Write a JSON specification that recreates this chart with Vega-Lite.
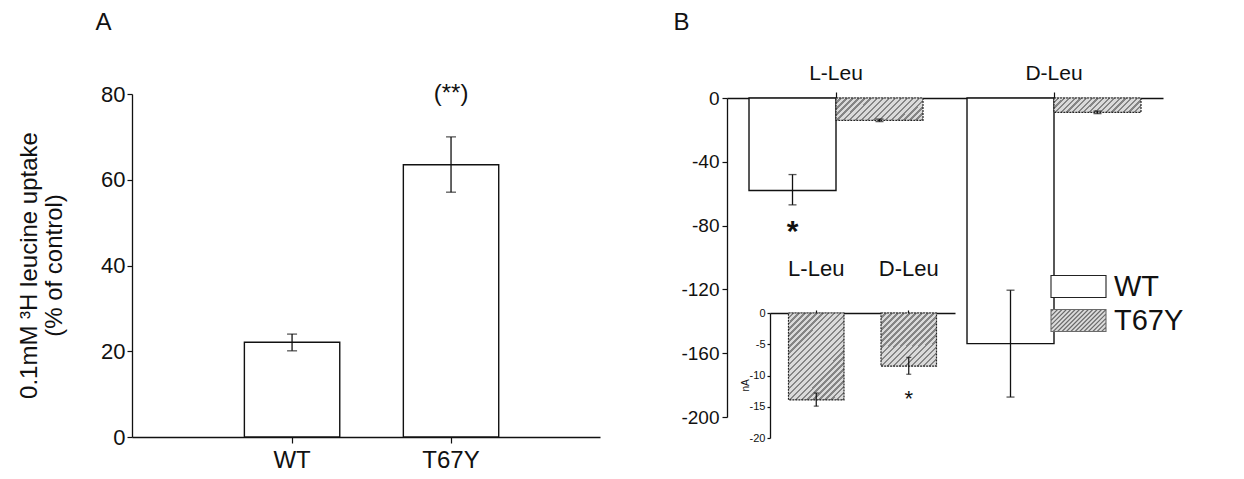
{
  "$schema": "https://vega.github.io/schema/vega-lite/v6.json",
  "width": 1244,
  "height": 479,
  "autosize": "none",
  "padding": 0,
  "background": "white",
  "config": {
    "font": "Liberation Sans",
    "view": {"stroke": null},
    "axis": {"grid": false, "domainColor": "#111", "tickColor": "#111", "labelColor": "#111", "titleColor": "#111", "domainWidth": 1.3, "tickWidth": 1.2, "titleFontWeight": "normal", "labelFlush": false, "labelOverlap": false}
  },
  "datasets": {
    "uptake": [
      {"genotype": "WT", "uptake": 22.1, "lo": 20.1, "hi": 24.0},
      {"genotype": "T67Y", "uptake": 63.5, "lo": 57.1, "hi": 70.0}
    ],
    "uptakeNote": [{"genotype": "T67Y", "level": 80, "note": "(**)"}],
    "current": [
      {"amino": "L-Leu", "series": "WT", "current": -58, "lo": -67, "hi": -48},
      {"amino": "L-Leu", "series": "T67Y", "current": -14, "lo": -14.8, "hi": -13.2},
      {"amino": "D-Leu", "series": "WT", "current": -154, "lo": -187.5, "hi": -120.5},
      {"amino": "D-Leu", "series": "T67Y", "current": -9, "lo": -9.8, "hi": -8.2}
    ],
    "currentNote": [{"amino": "L-Leu", "series": "WT", "level": -79, "note": "*"}],
    "inset": [
      {"amino": "L-Leu", "current": -13.9, "lo": -14.9, "hi": -12.8},
      {"amino": "D-Leu", "current": -8.5, "lo": -9.8, "hi": -7.1}
    ],
    "insetNote": [{"amino": "D-Leu", "level": -13, "note": "*"}]
  },
  "layer": [
    {
      "layer": [
        {
          "data": {"name": "uptake"},
          "mark": {"type": "bar", "fill": "white", "stroke": "#111", "strokeWidth": 1.4, "width": {"band": 0.6}},
          "encoding": {
            "x": {"field": "genotype", "type": "nominal",
              "scale": {"domain": ["WT", "T67Y"], "range": [132, 600], "paddingInner": 0, "paddingOuter": 0.472, "align": 0.537},
              "axis": {"orient": "bottom", "offset": -42, "title": "A", "titleX": 103, "titleY": -415, "titleFontSize": 24, "titleAlign": "center", "titleBaseline": "middle", "titleAngle": 0, "labelFontSize": 24, "labelAngle": 0, "tickSize": 6, "labelPadding": 5}},
            "y": {"field": "uptake", "type": "quantitative",
              "scale": {"domain": [0, 80], "range": [437, 94], "nice": false},
              "axis": {"orient": "left", "offset": -132, "values": [0, 20, 40, 60, 80], "tickSize": 5, "labelFontSize": 22, "labelPadding": 2, "title": ["0.1mM ³H leucine uptake", "(% of control)"], "titleFontSize": 24, "titleX": -103, "titleY": 265, "titleAngle": -90, "titleAlign": "center", "titleBaseline": "middle", "titleLineHeight": 25}}
          }
        },
        {
          "data": {"name": "uptake"},
          "mark": {"type": "rule", "stroke": "#111", "strokeWidth": 1.3},
          "encoding": {"x": {"field": "genotype", "type": "nominal"}, "y": {"field": "lo", "type": "quantitative"}, "y2": {"field": "hi"}}
        },
        {
          "data": {"name": "uptake"},
          "mark": {"type": "tick", "color": "#111", "size": 10, "thickness": 1.3},
          "encoding": {"x": {"field": "genotype", "type": "nominal"}, "y": {"field": "lo", "type": "quantitative"}}
        },
        {
          "data": {"name": "uptake"},
          "mark": {"type": "tick", "color": "#111", "size": 10, "thickness": 1.3},
          "encoding": {"x": {"field": "genotype", "type": "nominal"}, "y": {"field": "hi", "type": "quantitative"}}
        },
        {
          "data": {"name": "uptakeNote"},
          "mark": {"type": "text", "fontSize": 24, "baseline": "middle", "color": "#111"},
          "encoding": {"x": {"field": "genotype", "type": "nominal"}, "y": {"field": "level", "type": "quantitative"}, "text": {"field": "note"}}
        }
      ]
    },
    {
      "layer": [
        {
          "data": {"name": "current"},
          "transform": [{"filter": "datum.series === 'WT'"}],
          "mark": {"type": "bar", "fill": "white", "stroke": "#111", "strokeWidth": 1.4},
          "encoding": {
            "x": {"field": "amino", "type": "nominal",
              "scale": {"domain": ["L-Leu", "D-Leu"], "range": [727, 1163], "paddingInner": 0, "paddingOuter": 0},
              "axis": {"orient": "top", "offset": -98, "labelFontSize": 21, "tickSize": 6, "labelPadding": 9, "labelAngle": 0, "title": "B", "titleX": 681, "titleY": -76, "titleFontSize": 24, "titleAlign": "center", "titleBaseline": "middle", "titleAngle": 0}},
            "xOffset": {"field": "series", "type": "nominal", "scale": {"domain": ["WT", "T67Y"], "paddingInner": 0, "paddingOuter": 0.253}},
            "y": {"field": "current", "type": "quantitative",
              "scale": {"domain": [-200, 0], "range": [417, 98], "nice": false},
              "axis": {"orient": "left", "offset": -727, "values": [-200, -160, -120, -80, -40, 0], "labelExpr": "replace(datum.label, '−', '-')", "tickSize": 5, "labelFontSize": 19, "labelPadding": 3, "title": null}}
          }
        },
        {
          "data": {"name": "current"},
          "transform": [{"filter": "datum.series === 'T67Y' && datum.amino === 'L-Leu'"}],
          "mark": {"type": "bar", "stroke": "#222", "strokeWidth": 1.2, "strokeDash": [2, 1],
            "fill": {"gradient": "linear", "x1": 0, "y1": 0, "x2": 1.178, "y2": 0.3, "stops": [{"offset":0,"color":"#dadada"},{"offset":0.0333,"color":"#dadada"},{"offset":0.0333,"color":"#858585"},{"offset":0.0556,"color":"#858585"},{"offset":0.0556,"color":"#dadada"},{"offset":0.0889,"color":"#dadada"},{"offset":0.0889,"color":"#858585"},{"offset":0.1111,"color":"#858585"},{"offset":0.1111,"color":"#dadada"},{"offset":0.1444,"color":"#dadada"},{"offset":0.1444,"color":"#858585"},{"offset":0.1667,"color":"#858585"},{"offset":0.1667,"color":"#dadada"},{"offset":0.2,"color":"#dadada"},{"offset":0.2,"color":"#858585"},{"offset":0.2222,"color":"#858585"},{"offset":0.2222,"color":"#dadada"},{"offset":0.2556,"color":"#dadada"},{"offset":0.2556,"color":"#858585"},{"offset":0.2778,"color":"#858585"},{"offset":0.2778,"color":"#dadada"},{"offset":0.3111,"color":"#dadada"},{"offset":0.3111,"color":"#858585"},{"offset":0.3333,"color":"#858585"},{"offset":0.3333,"color":"#dadada"},{"offset":0.3667,"color":"#dadada"},{"offset":0.3667,"color":"#858585"},{"offset":0.3889,"color":"#858585"},{"offset":0.3889,"color":"#dadada"},{"offset":0.4222,"color":"#dadada"},{"offset":0.4222,"color":"#858585"},{"offset":0.4444,"color":"#858585"},{"offset":0.4444,"color":"#dadada"},{"offset":0.4778,"color":"#dadada"},{"offset":0.4778,"color":"#858585"},{"offset":0.5,"color":"#858585"},{"offset":0.5,"color":"#dadada"},{"offset":0.5333,"color":"#dadada"},{"offset":0.5333,"color":"#858585"},{"offset":0.5556,"color":"#858585"},{"offset":0.5556,"color":"#dadada"},{"offset":0.5889,"color":"#dadada"},{"offset":0.5889,"color":"#858585"},{"offset":0.6111,"color":"#858585"},{"offset":0.6111,"color":"#dadada"},{"offset":0.6444,"color":"#dadada"},{"offset":0.6444,"color":"#858585"},{"offset":0.6667,"color":"#858585"},{"offset":0.6667,"color":"#dadada"},{"offset":0.7,"color":"#dadada"},{"offset":0.7,"color":"#858585"},{"offset":0.7222,"color":"#858585"},{"offset":0.7222,"color":"#dadada"},{"offset":0.7556,"color":"#dadada"},{"offset":0.7556,"color":"#858585"},{"offset":0.7778,"color":"#858585"},{"offset":0.7778,"color":"#dadada"},{"offset":0.8111,"color":"#dadada"},{"offset":0.8111,"color":"#858585"},{"offset":0.8333,"color":"#858585"},{"offset":0.8333,"color":"#dadada"},{"offset":0.8667,"color":"#dadada"},{"offset":0.8667,"color":"#858585"},{"offset":0.8889,"color":"#858585"},{"offset":0.8889,"color":"#dadada"},{"offset":0.9222,"color":"#dadada"},{"offset":0.9222,"color":"#858585"},{"offset":0.9444,"color":"#858585"},{"offset":0.9444,"color":"#dadada"},{"offset":0.9778,"color":"#dadada"},{"offset":0.9778,"color":"#858585"},{"offset":1,"color":"#858585"}]}},
          "encoding": {
            "x": {"field": "amino", "type": "nominal"},
            "xOffset": {"field": "series", "type": "nominal"},
            "y": {"field": "current", "type": "quantitative"}
          }
        },
        {
          "data": {"name": "current"},
          "transform": [{"filter": "datum.series === 'T67Y' && datum.amino === 'D-Leu'"}],
          "mark": {"type": "bar", "stroke": "#222", "strokeWidth": 1.2, "strokeDash": [2, 1],
            "fill": {"gradient": "linear", "x1": 0, "y1": 0, "x2": 1.134, "y2": 0.188, "stops": [{"offset":0,"color":"#dadada"},{"offset":0.0333,"color":"#dadada"},{"offset":0.0333,"color":"#858585"},{"offset":0.0556,"color":"#858585"},{"offset":0.0556,"color":"#dadada"},{"offset":0.0889,"color":"#dadada"},{"offset":0.0889,"color":"#858585"},{"offset":0.1111,"color":"#858585"},{"offset":0.1111,"color":"#dadada"},{"offset":0.1444,"color":"#dadada"},{"offset":0.1444,"color":"#858585"},{"offset":0.1667,"color":"#858585"},{"offset":0.1667,"color":"#dadada"},{"offset":0.2,"color":"#dadada"},{"offset":0.2,"color":"#858585"},{"offset":0.2222,"color":"#858585"},{"offset":0.2222,"color":"#dadada"},{"offset":0.2556,"color":"#dadada"},{"offset":0.2556,"color":"#858585"},{"offset":0.2778,"color":"#858585"},{"offset":0.2778,"color":"#dadada"},{"offset":0.3111,"color":"#dadada"},{"offset":0.3111,"color":"#858585"},{"offset":0.3333,"color":"#858585"},{"offset":0.3333,"color":"#dadada"},{"offset":0.3667,"color":"#dadada"},{"offset":0.3667,"color":"#858585"},{"offset":0.3889,"color":"#858585"},{"offset":0.3889,"color":"#dadada"},{"offset":0.4222,"color":"#dadada"},{"offset":0.4222,"color":"#858585"},{"offset":0.4444,"color":"#858585"},{"offset":0.4444,"color":"#dadada"},{"offset":0.4778,"color":"#dadada"},{"offset":0.4778,"color":"#858585"},{"offset":0.5,"color":"#858585"},{"offset":0.5,"color":"#dadada"},{"offset":0.5333,"color":"#dadada"},{"offset":0.5333,"color":"#858585"},{"offset":0.5556,"color":"#858585"},{"offset":0.5556,"color":"#dadada"},{"offset":0.5889,"color":"#dadada"},{"offset":0.5889,"color":"#858585"},{"offset":0.6111,"color":"#858585"},{"offset":0.6111,"color":"#dadada"},{"offset":0.6444,"color":"#dadada"},{"offset":0.6444,"color":"#858585"},{"offset":0.6667,"color":"#858585"},{"offset":0.6667,"color":"#dadada"},{"offset":0.7,"color":"#dadada"},{"offset":0.7,"color":"#858585"},{"offset":0.7222,"color":"#858585"},{"offset":0.7222,"color":"#dadada"},{"offset":0.7556,"color":"#dadada"},{"offset":0.7556,"color":"#858585"},{"offset":0.7778,"color":"#858585"},{"offset":0.7778,"color":"#dadada"},{"offset":0.8111,"color":"#dadada"},{"offset":0.8111,"color":"#858585"},{"offset":0.8333,"color":"#858585"},{"offset":0.8333,"color":"#dadada"},{"offset":0.8667,"color":"#dadada"},{"offset":0.8667,"color":"#858585"},{"offset":0.8889,"color":"#858585"},{"offset":0.8889,"color":"#dadada"},{"offset":0.9222,"color":"#dadada"},{"offset":0.9222,"color":"#858585"},{"offset":0.9444,"color":"#858585"},{"offset":0.9444,"color":"#dadada"},{"offset":0.9778,"color":"#dadada"},{"offset":0.9778,"color":"#858585"},{"offset":1,"color":"#858585"}]}},
          "encoding": {
            "x": {"field": "amino", "type": "nominal"},
            "xOffset": {"field": "series", "type": "nominal"},
            "y": {"field": "current", "type": "quantitative"}
          }
        },
        {
          "data": {"name": "current"},
          "mark": {"type": "rule", "stroke": "#111", "strokeWidth": 1.3},
          "encoding": {"x": {"field": "amino", "type": "nominal"}, "xOffset": {"field": "series", "type": "nominal"}, "y": {"field": "lo", "type": "quantitative"}, "y2": {"field": "hi"}}
        },
        {
          "data": {"name": "current"},
          "mark": {"type": "tick", "color": "#111", "size": 8, "thickness": 1.3},
          "encoding": {"x": {"field": "amino", "type": "nominal"}, "xOffset": {"field": "series", "type": "nominal"}, "y": {"field": "lo", "type": "quantitative"}}
        },
        {
          "data": {"name": "current"},
          "mark": {"type": "tick", "color": "#111", "size": 8, "thickness": 1.3},
          "encoding": {"x": {"field": "amino", "type": "nominal"}, "xOffset": {"field": "series", "type": "nominal"}, "y": {"field": "hi", "type": "quantitative"}}
        },
        {
          "data": {"name": "currentNote"},
          "mark": {"type": "text", "fontSize": 30, "fontWeight": "bold", "baseline": "middle", "dy": 8, "color": "#111"},
          "encoding": {"x": {"field": "amino", "type": "nominal"}, "xOffset": {"field": "series", "type": "nominal"}, "y": {"field": "level", "type": "quantitative"}, "text": {"field": "note"}}
        },
        {
          "data": {"name": "current"},
          "mark": {"type": "point", "filled": true, "opacity": 0, "size": 484, "strokeWidth": 1},
          "encoding": {
            "x": {"field": "amino", "type": "nominal"},
            "xOffset": {"field": "series", "type": "nominal"},
            "y": {"field": "current", "type": "quantitative"},
            "fill": {"field": "series", "type": "nominal",
              "scale": {"domain": ["WT", "T67Y"], "range": ["#ffffff", "#dcdcdc"]},
              "legend": {"orient": "none", "legendX": 1064, "legendY": 272, "title": null, "padding": 0, "symbolSize": 484, "symbolStrokeWidth": 1.1, "symbolOpacity": 1, "labelFontSize": 29, "labelOffset": 21, "rowPadding": 4, "labelColor": "#111", "labelBaseline": "middle"}},
            "stroke": {"field": "series", "type": "nominal",
              "scale": {"domain": ["WT", "T67Y"], "range": ["#222222", "#6a6a6a"]},
              "legend": {"orient": "none", "legendX": 1064, "legendY": 272, "title": null, "padding": 0, "symbolSize": 484, "symbolStrokeWidth": 1.1, "symbolOpacity": 1, "labelFontSize": 29, "labelOffset": 21, "rowPadding": 4, "labelColor": "#111", "labelBaseline": "middle"}},
            "shape": {"field": "series", "type": "nominal",
              "scale": {"domain": ["WT", "T67Y"], "range": ["M-2.5,-1H2.5V1H-2.5Z", "M-2.5,-1H2.5V1H-2.5Z M-2.5,-0.8L-2.3,-1 M-2.5,-0.4L-1.9,-1 M-2.5,0L-1.5,-1 M-2.5,0.4L-1.1,-1 M-2.5,0.8L-0.7,-1 M-2.3,1L-0.3,-1 M-1.9,1L0.1,-1 M-1.5,1L0.5,-1 M-1.1,1L0.9,-1 M-0.7,1L1.3,-1 M-0.3,1L1.7,-1 M0.1,1L2.1,-1 M0.5,1L2.5,-1 M0.9,1L2.5,-0.6 M1.3,1L2.5,-0.2 M1.7,1L2.5,0.2 M2.1,1L2.5,0.6"]},
              "legend": {"orient": "none", "legendX": 1064, "legendY": 272, "title": null, "padding": 0, "symbolSize": 484, "symbolStrokeWidth": 1.1, "symbolOpacity": 1, "labelFontSize": 29, "labelOffset": 21, "rowPadding": 4, "labelColor": "#111", "labelBaseline": "middle"}}
          }
        }
      ]
    },
    {
      "layer": [
        {
          "data": {"name": "inset"},
          "transform": [{"filter": "datum.amino === 'L-Leu'"}],
          "mark": {"type": "bar", "stroke": "#222", "strokeWidth": 1.2, "strokeDash": [2, 1], "width": {"band": 0.6},
            "fill": {"gradient": "linear", "x1": 0, "y1": 0, "x2": 0.745, "y2": 1.163, "stops": [{"offset":0,"color":"#dadada"},{"offset":0.025,"color":"#dadada"},{"offset":0.025,"color":"#858585"},{"offset":0.0417,"color":"#858585"},{"offset":0.0417,"color":"#dadada"},{"offset":0.0667,"color":"#dadada"},{"offset":0.0667,"color":"#858585"},{"offset":0.0833,"color":"#858585"},{"offset":0.0833,"color":"#dadada"},{"offset":0.1083,"color":"#dadada"},{"offset":0.1083,"color":"#858585"},{"offset":0.125,"color":"#858585"},{"offset":0.125,"color":"#dadada"},{"offset":0.15,"color":"#dadada"},{"offset":0.15,"color":"#858585"},{"offset":0.1667,"color":"#858585"},{"offset":0.1667,"color":"#dadada"},{"offset":0.1917,"color":"#dadada"},{"offset":0.1917,"color":"#858585"},{"offset":0.2083,"color":"#858585"},{"offset":0.2083,"color":"#dadada"},{"offset":0.2333,"color":"#dadada"},{"offset":0.2333,"color":"#858585"},{"offset":0.25,"color":"#858585"},{"offset":0.25,"color":"#dadada"},{"offset":0.275,"color":"#dadada"},{"offset":0.275,"color":"#858585"},{"offset":0.2917,"color":"#858585"},{"offset":0.2917,"color":"#dadada"},{"offset":0.3167,"color":"#dadada"},{"offset":0.3167,"color":"#858585"},{"offset":0.3333,"color":"#858585"},{"offset":0.3333,"color":"#dadada"},{"offset":0.3583,"color":"#dadada"},{"offset":0.3583,"color":"#858585"},{"offset":0.375,"color":"#858585"},{"offset":0.375,"color":"#dadada"},{"offset":0.4,"color":"#dadada"},{"offset":0.4,"color":"#858585"},{"offset":0.4167,"color":"#858585"},{"offset":0.4167,"color":"#dadada"},{"offset":0.4417,"color":"#dadada"},{"offset":0.4417,"color":"#858585"},{"offset":0.4583,"color":"#858585"},{"offset":0.4583,"color":"#dadada"},{"offset":0.4833,"color":"#dadada"},{"offset":0.4833,"color":"#858585"},{"offset":0.5,"color":"#858585"},{"offset":0.5,"color":"#dadada"},{"offset":0.525,"color":"#dadada"},{"offset":0.525,"color":"#858585"},{"offset":0.5417,"color":"#858585"},{"offset":0.5417,"color":"#dadada"},{"offset":0.5667,"color":"#dadada"},{"offset":0.5667,"color":"#858585"},{"offset":0.5833,"color":"#858585"},{"offset":0.5833,"color":"#dadada"},{"offset":0.6083,"color":"#dadada"},{"offset":0.6083,"color":"#858585"},{"offset":0.625,"color":"#858585"},{"offset":0.625,"color":"#dadada"},{"offset":0.65,"color":"#dadada"},{"offset":0.65,"color":"#858585"},{"offset":0.6667,"color":"#858585"},{"offset":0.6667,"color":"#dadada"},{"offset":0.6917,"color":"#dadada"},{"offset":0.6917,"color":"#858585"},{"offset":0.7083,"color":"#858585"},{"offset":0.7083,"color":"#dadada"},{"offset":0.7333,"color":"#dadada"},{"offset":0.7333,"color":"#858585"},{"offset":0.75,"color":"#858585"},{"offset":0.75,"color":"#dadada"},{"offset":0.775,"color":"#dadada"},{"offset":0.775,"color":"#858585"},{"offset":0.7917,"color":"#858585"},{"offset":0.7917,"color":"#dadada"},{"offset":0.8167,"color":"#dadada"},{"offset":0.8167,"color":"#858585"},{"offset":0.8333,"color":"#858585"},{"offset":0.8333,"color":"#dadada"},{"offset":0.8583,"color":"#dadada"},{"offset":0.8583,"color":"#858585"},{"offset":0.875,"color":"#858585"},{"offset":0.875,"color":"#dadada"},{"offset":0.9,"color":"#dadada"},{"offset":0.9,"color":"#858585"},{"offset":0.9167,"color":"#858585"},{"offset":0.9167,"color":"#dadada"},{"offset":0.9417,"color":"#dadada"},{"offset":0.9417,"color":"#858585"},{"offset":0.9583,"color":"#858585"},{"offset":0.9583,"color":"#dadada"},{"offset":0.9833,"color":"#dadada"},{"offset":0.9833,"color":"#858585"},{"offset":1,"color":"#858585"}]}},
          "encoding": {
            "x": {"field": "amino", "type": "nominal",
              "scale": {"domain": ["L-Leu", "D-Leu"], "range": [770, 955], "paddingInner": 0, "paddingOuter": 0},
              "axis": {"orient": "top", "offset": -313, "labelFontSize": 22, "tickSize": 3, "labelPadding": 30, "labelAngle": 0, "title": null}},
            "y": {"field": "current", "type": "quantitative",
              "scale": {"domain": [-20, 0], "range": [438, 313], "nice": false},
              "axis": {"orient": "left", "offset": -770, "values": [-20, -15, -10, -5, 0], "labelExpr": "replace(datum.label, '−', '-')", "tickSize": 3, "labelFontSize": 11, "labelPadding": 2, "title": "nA", "titleFontSize": 10, "titleX": -25, "titleY": 385, "titleAngle": -90, "titleAlign": "center", "titleBaseline": "middle"}}
          }
        },
        {
          "data": {"name": "inset"},
          "transform": [{"filter": "datum.amino === 'D-Leu'"}],
          "mark": {"type": "bar", "stroke": "#222", "strokeWidth": 1.2, "strokeDash": [2, 1], "width": {"band": 0.6},
            "fill": {"gradient": "linear", "x1": 0, "y1": 0, "x2": 1.027, "y2": 0.972, "stops": [{"offset":0,"color":"#dadada"},{"offset":0.0333,"color":"#dadada"},{"offset":0.0333,"color":"#858585"},{"offset":0.0556,"color":"#858585"},{"offset":0.0556,"color":"#dadada"},{"offset":0.0889,"color":"#dadada"},{"offset":0.0889,"color":"#858585"},{"offset":0.1111,"color":"#858585"},{"offset":0.1111,"color":"#dadada"},{"offset":0.1444,"color":"#dadada"},{"offset":0.1444,"color":"#858585"},{"offset":0.1667,"color":"#858585"},{"offset":0.1667,"color":"#dadada"},{"offset":0.2,"color":"#dadada"},{"offset":0.2,"color":"#858585"},{"offset":0.2222,"color":"#858585"},{"offset":0.2222,"color":"#dadada"},{"offset":0.2556,"color":"#dadada"},{"offset":0.2556,"color":"#858585"},{"offset":0.2778,"color":"#858585"},{"offset":0.2778,"color":"#dadada"},{"offset":0.3111,"color":"#dadada"},{"offset":0.3111,"color":"#858585"},{"offset":0.3333,"color":"#858585"},{"offset":0.3333,"color":"#dadada"},{"offset":0.3667,"color":"#dadada"},{"offset":0.3667,"color":"#858585"},{"offset":0.3889,"color":"#858585"},{"offset":0.3889,"color":"#dadada"},{"offset":0.4222,"color":"#dadada"},{"offset":0.4222,"color":"#858585"},{"offset":0.4444,"color":"#858585"},{"offset":0.4444,"color":"#dadada"},{"offset":0.4778,"color":"#dadada"},{"offset":0.4778,"color":"#858585"},{"offset":0.5,"color":"#858585"},{"offset":0.5,"color":"#dadada"},{"offset":0.5333,"color":"#dadada"},{"offset":0.5333,"color":"#858585"},{"offset":0.5556,"color":"#858585"},{"offset":0.5556,"color":"#dadada"},{"offset":0.5889,"color":"#dadada"},{"offset":0.5889,"color":"#858585"},{"offset":0.6111,"color":"#858585"},{"offset":0.6111,"color":"#dadada"},{"offset":0.6444,"color":"#dadada"},{"offset":0.6444,"color":"#858585"},{"offset":0.6667,"color":"#858585"},{"offset":0.6667,"color":"#dadada"},{"offset":0.7,"color":"#dadada"},{"offset":0.7,"color":"#858585"},{"offset":0.7222,"color":"#858585"},{"offset":0.7222,"color":"#dadada"},{"offset":0.7556,"color":"#dadada"},{"offset":0.7556,"color":"#858585"},{"offset":0.7778,"color":"#858585"},{"offset":0.7778,"color":"#dadada"},{"offset":0.8111,"color":"#dadada"},{"offset":0.8111,"color":"#858585"},{"offset":0.8333,"color":"#858585"},{"offset":0.8333,"color":"#dadada"},{"offset":0.8667,"color":"#dadada"},{"offset":0.8667,"color":"#858585"},{"offset":0.8889,"color":"#858585"},{"offset":0.8889,"color":"#dadada"},{"offset":0.9222,"color":"#dadada"},{"offset":0.9222,"color":"#858585"},{"offset":0.9444,"color":"#858585"},{"offset":0.9444,"color":"#dadada"},{"offset":0.9778,"color":"#dadada"},{"offset":0.9778,"color":"#858585"},{"offset":1,"color":"#858585"}]}},
          "encoding": {
            "x": {"field": "amino", "type": "nominal"},
            "y": {"field": "current", "type": "quantitative"}
          }
        },
        {
          "data": {"name": "inset"},
          "mark": {"type": "rule", "stroke": "#111", "strokeWidth": 1.2},
          "encoding": {"x": {"field": "amino", "type": "nominal"}, "y": {"field": "lo", "type": "quantitative"}, "y2": {"field": "hi"}}
        },
        {
          "data": {"name": "inset"},
          "mark": {"type": "tick", "color": "#111", "size": 5, "thickness": 1.2},
          "encoding": {"x": {"field": "amino", "type": "nominal"}, "y": {"field": "lo", "type": "quantitative"}}
        },
        {
          "data": {"name": "inset"},
          "mark": {"type": "tick", "color": "#111", "size": 5, "thickness": 1.2},
          "encoding": {"x": {"field": "amino", "type": "nominal"}, "y": {"field": "hi", "type": "quantitative"}}
        },
        {
          "data": {"name": "insetNote"},
          "mark": {"type": "text", "fontSize": 22, "baseline": "middle", "dy": 5, "color": "#111"},
          "encoding": {"x": {"field": "amino", "type": "nominal"}, "y": {"field": "level", "type": "quantitative"}, "text": {"field": "note"}}
        }
      ]
    }
  ],
  "resolve": {
    "scale": {"x": "independent", "y": "independent", "xOffset": "independent", "fill": "independent", "shape": "independent", "stroke": "independent"},
    "axis": {"x": "independent", "y": "independent"},
    "legend": {"fill": "independent", "shape": "independent", "stroke": "independent"}
  }
}
